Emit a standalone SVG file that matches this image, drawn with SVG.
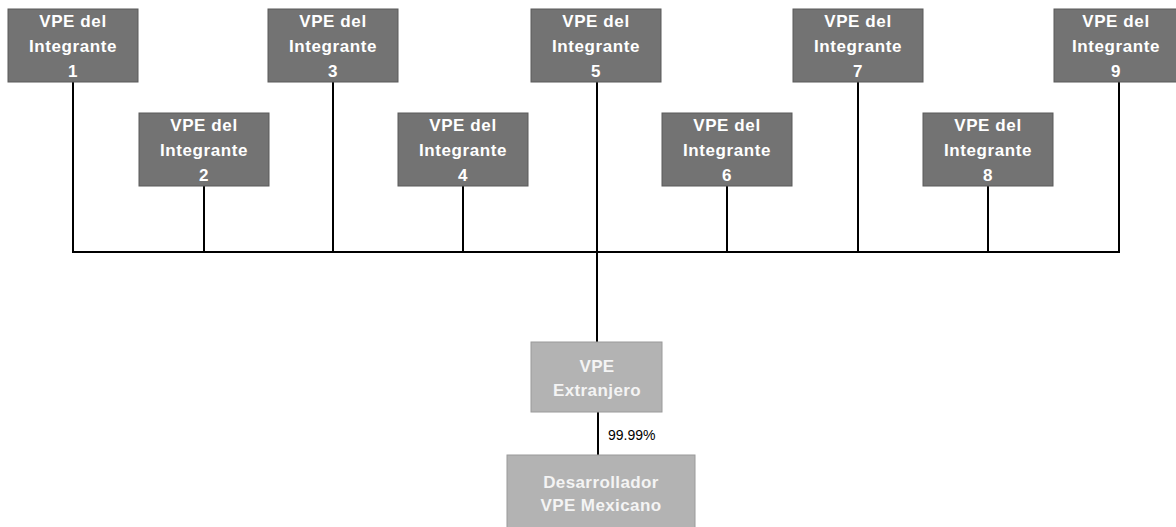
<svg xmlns="http://www.w3.org/2000/svg" width="1176" height="527" viewBox="0 0 1176 527">
<style>
.dark{fill:#737373;stroke:#5a5a5a;stroke-width:1}
.light{fill:#b3b3b3;stroke:#9a9a9a;stroke-width:1}
.t{font-family:"Liberation Sans",Arial,sans-serif;font-weight:bold;font-size:17px;fill:#ffffff;text-anchor:middle;letter-spacing:0.6px}
.tl{font-family:"Liberation Sans",Arial,sans-serif;font-weight:bold;font-size:17px;fill:#f4f4f4;text-anchor:middle;letter-spacing:0.4px}
.ln{stroke:#000;stroke-width:2;fill:none}
.pct{font-family:"Liberation Sans",Arial,sans-serif;font-size:14px;fill:#000}
</style>
<rect width="1176" height="527" fill="#ffffff"/>
<g id="connectors">
<line class="ln" x1="73" y1="252" x2="1120" y2="252"/>
<line class="ln" x1="73" y1="82" x2="73" y2="253"/>
<line class="ln" x1="204" y1="186" x2="204" y2="253"/>
<line class="ln" x1="333" y1="82" x2="333" y2="253"/>
<line class="ln" x1="463" y1="186" x2="463" y2="253"/>
<line class="ln" x1="597" y1="82" x2="597" y2="342"/>
<line class="ln" x1="727" y1="186" x2="727" y2="253"/>
<line class="ln" x1="858" y1="82" x2="858" y2="253"/>
<line class="ln" x1="988" y1="186" x2="988" y2="253"/>
<line class="ln" x1="1119" y1="82" x2="1119" y2="253"/>
<line class="ln" x1="598" y1="412" x2="598" y2="455"/>
<text class="pct" x="608" y="440">99.99%</text>
</g>
<g id="n1"><rect class="dark" x="8" y="9" width="130" height="73"/><text class="t" x="73" y="27">VPE del</text><text class="t" x="73" y="52">Integrante</text><text class="t" x="73" y="77">1</text></g>
<g id="n2"><rect class="dark" x="139" y="113" width="130" height="73"/><text class="t" x="204" y="131">VPE del</text><text class="t" x="204" y="156">Integrante</text><text class="t" x="204" y="181">2</text></g>
<g id="n3"><rect class="dark" x="268" y="9" width="130" height="73"/><text class="t" x="333" y="27">VPE del</text><text class="t" x="333" y="52">Integrante</text><text class="t" x="333" y="77">3</text></g>
<g id="n4"><rect class="dark" x="398" y="113" width="130" height="73"/><text class="t" x="463" y="131">VPE del</text><text class="t" x="463" y="156">Integrante</text><text class="t" x="463" y="181">4</text></g>
<g id="n5"><rect class="dark" x="531" y="9" width="130" height="73"/><text class="t" x="596" y="27">VPE del</text><text class="t" x="596" y="52">Integrante</text><text class="t" x="596" y="77">5</text></g>
<g id="n6"><rect class="dark" x="662" y="113" width="130" height="73"/><text class="t" x="727" y="131">VPE del</text><text class="t" x="727" y="156">Integrante</text><text class="t" x="727" y="181">6</text></g>
<g id="n7"><rect class="dark" x="793" y="9" width="130" height="73"/><text class="t" x="858" y="27">VPE del</text><text class="t" x="858" y="52">Integrante</text><text class="t" x="858" y="77">7</text></g>
<g id="n8"><rect class="dark" x="923" y="113" width="130" height="73"/><text class="t" x="988" y="131">VPE del</text><text class="t" x="988" y="156">Integrante</text><text class="t" x="988" y="181">8</text></g>
<g id="n9"><rect class="dark" x="1054" y="9" width="130" height="73"/><text class="t" x="1116" y="27">VPE del</text><text class="t" x="1116" y="52">Integrante</text><text class="t" x="1116" y="77">9</text></g>
<g id="n10"><rect class="light" x="531" y="342" width="131" height="70"/><text class="tl" x="597" y="372">VPE</text><text class="tl" x="597" y="396">Extranjero</text></g>
<g id="n11"><rect class="light" x="507" y="455" width="188" height="80"/><text class="tl" x="601" y="488">Desarrollador</text><text class="tl" x="601" y="511">VPE Mexicano</text></g>
</svg>
